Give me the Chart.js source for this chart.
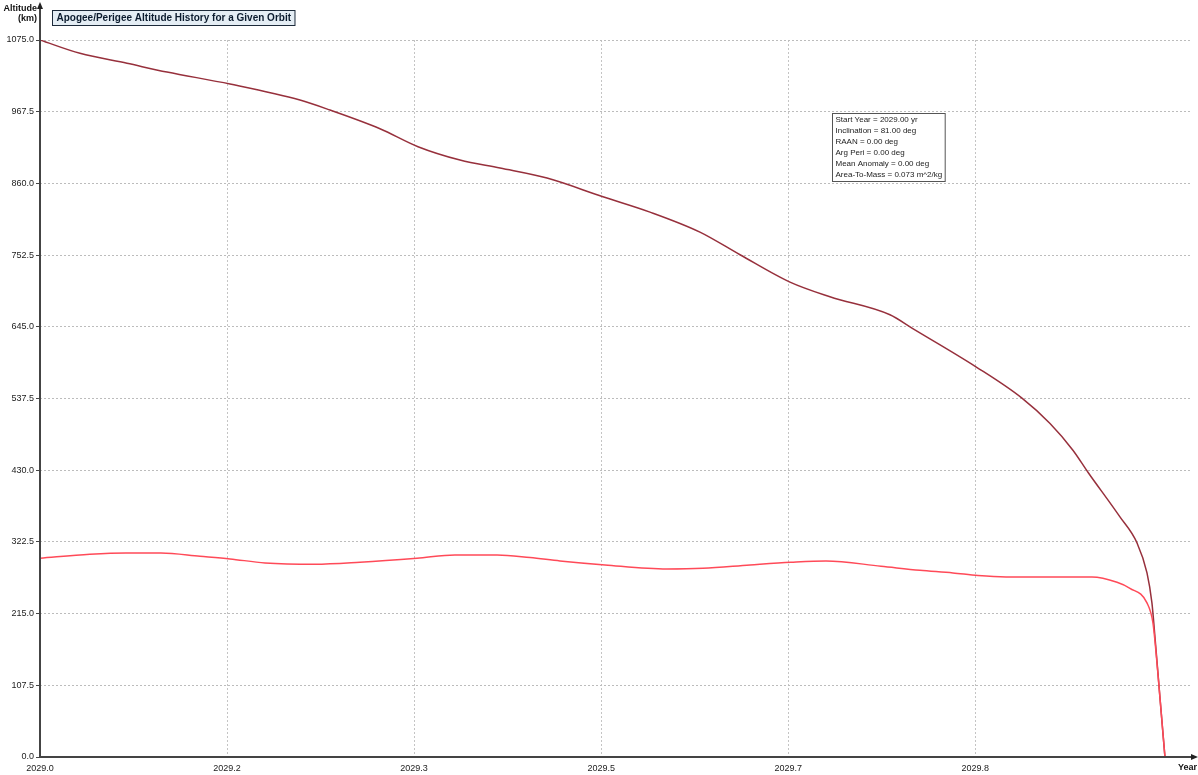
<!DOCTYPE html>
<html lang="en">
<head>
  <meta charset="UTF-8">
  <title>Apogee/Perigee Altitude History for a Given Orbit</title>
  <script src="https://cdn.jsdelivr.net/npm/chart.js"></script>
  <style>
    html, body { margin: 0; padding: 0; background: #fff; }
    #wrap { position: relative; width: 1198px; height: 775px; }
  </style>
</head>
<body>
  <div id="wrap">
    <canvas id="altChart" width="1198" height="775"></canvas>
  </div>
  <script>
    // tick positions and labels (years, km)
    const xTickValues = [2029.0, 2029.1667, 2029.3333, 2029.5, 2029.6667, 2029.8333];
    const xTickLabels = ['2029.0', '2029.2', '2029.3', '2029.5', '2029.7', '2029.8'];
    const yTickValues = [0, 107.5, 215, 322.5, 430, 537.5, 645, 752.5, 860, 967.5, 1075];

    // apogee altitude (km) vs year
    const apogeeYears = [2029.0, 2029.0356, 2029.0775, 2029.1131, 2029.1693, 2029.2316, 2029.2584, 2029.3029,
      2029.3368, 2029.3742, 2029.4099, 2029.4517, 2029.5016, 2029.5435, 2029.5880, 2029.6237, 2029.6682,
      2029.7038, 2029.7573, 2029.7769, 2029.8339, 2029.8749, 2029.8999, 2029.9203, 2029.9337, 2029.9622,
      2029.9774, 2029.9863, 2029.9907, 2029.9934, 2029.9979, 2030.0023];
    const apogeeKm = [1075, 1055, 1040, 1027, 1009, 985, 970, 942,
      915, 895, 883, 868, 840, 817, 787, 753, 712,
      690, 663, 643, 585, 538, 500, 460, 427, 360,
      321, 276, 231, 180, 88, 0];

    // perigee altitude (km) vs year
    const perigeeYears = [2029.0, 2029.0445, 2029.0766, 2029.1078, 2029.1426, 2029.1693, 2029.2005, 2029.2450,
      2029.2851, 2029.3359, 2029.3697, 2029.4072, 2029.4366, 2029.4633, 2029.5034, 2029.5586, 2029.5907,
      2029.6326, 2029.6691, 2029.7003, 2029.7493, 2029.7840, 2029.8134, 2029.8357, 2029.8607, 2029.9373,
      2029.9596, 2029.9711, 2029.9863, 2029.9916, 2029.9952, 2029.9988, 2030.0023];
    const perigeeKm = [298, 304, 306, 306, 301, 297, 291, 289,
      292, 298, 303, 303, 299, 294, 288, 282, 283,
      288, 292, 294, 286, 280, 276, 272, 270, 270,
      262, 253, 231, 201, 141, 70, 0];

    const infoLines = [
      'Start Year = 2029.00 yr',
      'Inclination = 81.00 deg',
      'RAAN = 0.00 deg',
      'Arg Peri = 0.00 deg',
      'Mean Anomaly = 0.00 deg',
      'Area-To-Mass = 0.073 m^2/kg'
    ];

    const FONT = '"Liberation Sans", Arial, sans-serif';

    const toPoints = (xs, ys) => xs.map((x, i) => ({ x: x, y: ys[i] }));

    // axes with arrows, title box, axis names and the parameter box
    const decor = {
      id: 'decor',
      afterDraw(chart) {
        const ctx = chart.ctx;
        const a = chart.chartArea;
        ctx.save();

        // axis lines
        ctx.strokeStyle = '#444';
        ctx.fillStyle = '#222';
        ctx.lineWidth = 2;
        ctx.beginPath();
        ctx.moveTo(a.left, a.bottom);
        ctx.lineTo(a.left, 6);
        ctx.moveTo(a.left, a.bottom);
        ctx.lineTo(a.right + 2, a.bottom);
        ctx.stroke();
        ctx.beginPath();
        ctx.moveTo(a.left, 2);
        ctx.lineTo(a.left - 3, 9);
        ctx.lineTo(a.left + 3, 9);
        ctx.closePath();
        ctx.fill();
        ctx.beginPath();
        ctx.moveTo(a.right + 6, a.bottom);
        ctx.lineTo(a.right - 1, a.bottom - 3);
        ctx.lineTo(a.right - 1, a.bottom + 3);
        ctx.closePath();
        ctx.fill();

        // axis names
        ctx.font = 'bold 9px ' + FONT;
        ctx.fillStyle = '#111';
        ctx.textAlign = 'right';
        ctx.textBaseline = 'middle';
        ctx.fillText('Altitude', 37, 9);
        ctx.fillText('(km)', 37, 19);
        ctx.fillText('Year', 1197, 768);

        // title box
        const title = 'Apogee/Perigee Altitude History for a Given Orbit';
        ctx.font = 'bold 10px ' + FONT;
        const tw = ctx.measureText(title).width;
        ctx.fillStyle = '#e4edf4';
        ctx.fillRect(52.5, 10.5, tw + 8, 15);
        ctx.strokeStyle = '#1c2a3a';
        ctx.lineWidth = 1;
        ctx.strokeRect(52.5, 10.5, tw + 8, 15);
        ctx.fillStyle = '#0b1b2e';
        ctx.textAlign = 'left';
        ctx.fillText(title, 56.5, 18.5);

        // parameter box
        ctx.font = '8px ' + FONT;
        let bw = 0;
        infoLines.forEach(s => { bw = Math.max(bw, ctx.measureText(s).width); });
        const bx = 832.5, by = 113.5, bh = infoLines.length * 11 + 2;
        ctx.fillStyle = '#fff';
        ctx.fillRect(bx, by, bw + 6, bh);
        ctx.strokeStyle = '#555';
        ctx.strokeRect(bx, by, bw + 6, bh);
        ctx.fillStyle = '#222';
        infoLines.forEach((s, i) => ctx.fillText(s, bx + 3, by + 6.5 + i * 11));

        ctx.restore();
      }
    };

    new Chart(document.getElementById('altChart'), {
      type: 'line',
      data: {
        datasets: [
          {
            label: 'Perigee',
            data: toPoints(perigeeYears, perigeeKm),
            borderColor: '#ff4a58',
            borderWidth: 1.5,
            pointRadius: 0,
            cubicInterpolationMode: 'monotone'
          },
          {
            label: 'Apogee',
            data: toPoints(apogeeYears, apogeeKm),
            borderColor: '#97303c',
            borderWidth: 1.5,
            pointRadius: 0,
            cubicInterpolationMode: 'monotone'
          }
        ]
      },
      options: {
        responsive: false,
        animation: false,
        devicePixelRatio: 1,
        layout: { padding: { top: 40, right: 6, left: 0, bottom: 0 } },
        plugins: {
          legend: { display: false },
          tooltip: { enabled: false },
          title: { display: false }
        },
        scales: {
          x: {
            type: 'linear',
            min: 2029.0,
            max: 2030.0264,
            afterBuildTicks: s => { s.ticks = xTickValues.map(v => ({ value: v })); },
            afterFit: s => { s.height = 18; },
            border: { display: false, dash: [2, 2] },
            grid: {
              color: c => (c.tick && c.tick.value === 2029.0 ? 'rgba(0,0,0,0)' : '#c4c4c4'),
              lineWidth: 1,
              tickLength: 4,
              tickColor: 'rgba(0,0,0,0)'
            },
            ticks: {
              autoSkip: false,
              maxRotation: 0,
              padding: 2,
              color: '#222',
              font: { family: FONT, size: 9 },
              callback: (v, i) => xTickLabels[i]
            }
          },
          y: {
            min: 0,
            max: 1075,
            afterBuildTicks: s => { s.ticks = yTickValues.map(v => ({ value: v })); },
            afterFit: s => { s.width = 40; },
            border: { display: false, dash: [2, 2] },
            grid: {
              color: '#bcbcbc',
              lineWidth: 1,
              tickLength: 4,
              tickColor: '#444',
              tickBorderDash: []
            },
            ticks: {
              autoSkip: false,
              padding: 2,
              color: '#222',
              font: { family: FONT, size: 9 },
              callback: v => Number(v).toFixed(1)
            }
          }
        }
      },
      plugins: [decor]
    });
  </script>
</body>
</html>
